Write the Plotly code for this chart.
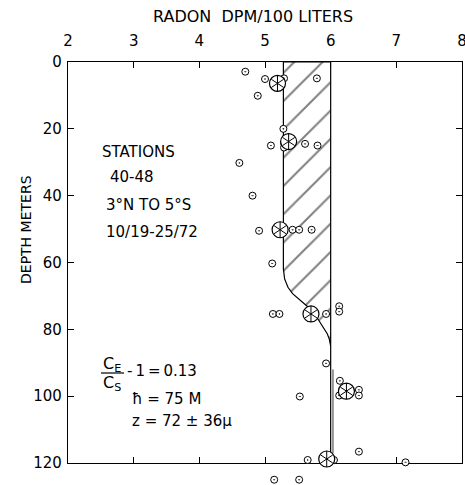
import plotly.graph_objects as go

# ---- data ----
x_ticks = [2, 3, 4, 5, 6, 7, 8]
x_tick_labels = ["2", "3", "4", "5", "6", "7", "8"]
y_ticks = [0, 20, 40, 60, 80, 100, 120]
y_tick_labels = ["0", "20", "40", "60", "80", "100", "120"]

# individual samples (radon dpm/100 L, depth m)
sample_radon = [4.70, 5.00, 4.89, 5.29, 5.79,
                5.28, 5.09, 5.29, 5.29, 5.61, 5.80,
                4.61, 4.81,
                4.91, 5.29, 5.42, 5.52, 5.71,
                5.11,
                5.12, 5.22, 5.93, 6.13, 6.13,
                5.93, 6.14, 6.13, 6.43, 6.43, 5.53,
                6.43, 5.65, 6.05, 7.14,
                5.14, 5.52]
sample_depth = [2.9, 5.1, 10.1, 4.9, 4.9,
                20.0, 25.0, 25.6, 24.2, 24.5, 25.0,
                30.2, 40.0,
                50.5, 50.2, 50.2, 50.2, 50.2,
                60.3,
                75.4, 75.4, 75.4, 73.1, 74.7,
                90.2, 95.4, 99.8, 98.1, 99.8, 100.1,
                116.6, 119.1, 119.1, 119.8,
                125.0, 125.0]

# mean values at each sampling depth
mean_radon = [5.19, 5.36, 5.23, 5.70, 6.24, 5.94]
mean_depth = [6.4, 23.8, 50.2, 75.4, 98.5, 118.8]

# hatched excess-radon region outline
hatch_radon = [5.28, 5.28, 5.30, 5.35, 5.42, 5.51, 5.66, 5.76, 5.84, 5.91, 5.95, 5.98, 6.00, 6.00, 5.28]
hatch_depth = [0.0, 62.0, 65.0, 67.4, 69.3, 70.9, 73.4, 75.5, 77.9, 80.0, 81.4, 83.0, 85.0, 0.0, 0.0]

# equilibrium (226Ra) line below the mixed layer
eq_radon = [6.00, 6.00]
eq_depth = [85.0, 120.0]
eq2_radon = [6.035, 6.035]
eq2_depth = [92.0, 117.0]

# ---- layout helpers (pixel -> paper) ----
W, H = 465, 485
L, R, T, B = 68, 3, 62, 3
AX_BOTTOM = 463          # pixel row of the 120 m frame line
PW, PH = W - L - R, H - T - B
DEPTH_MAX = 120.0
PX_PER_M = (AX_BOTTOM - T) / DEPTH_MAX
EXT_MAX = PH / PX_PER_M   # depth at the very bottom of the extended area
Y_DOMAIN0 = (H - B - AX_BOTTOM) / PH


def px(x):
    return (x - L) / PW


def py(y):
    return 1 - (y - T) / PH


FONT = "DejaVu Sans"

fig = go.Figure()

fig.add_trace(go.Scatter(
    x=hatch_radon, y=hatch_depth, mode="lines", fill="toself",
    fillcolor="white",
    fillpattern=dict(shape="/", fgcolor="black", bgcolor="white", size=20, solidity=0.1),
    line=dict(color="black", width=1.2), hoverinfo="skip", showlegend=False))

fig.add_trace(go.Scatter(x=eq_radon, y=eq_depth, mode="lines",
                         line=dict(color="black", width=1.2), showlegend=False))
fig.add_trace(go.Scatter(x=eq2_radon, y=eq2_depth, mode="lines",
                         line=dict(color="black", width=0.8), showlegend=False))

# samples are drawn on an invisible, taller twin axis so points below 120 m show
fig.add_trace(go.Scatter(
    x=sample_radon, y=sample_depth, mode="markers", cliponaxis=False,
    xaxis="x2", yaxis="y2",
    marker=dict(symbol="circle-dot", size=7, color="white",
                line=dict(color="black", width=1)),
    showlegend=False))

fig.add_trace(go.Scatter(
    x=mean_radon, y=mean_depth, mode="markers", cliponaxis=False,
    xaxis="x2", yaxis="y2",
    marker=dict(symbol="circle", size=16, color="white",
                line=dict(color="black", width=1.2)),
    showlegend=False))
for sym in ["y-up-open", "y-down-open"]:
    fig.add_trace(go.Scatter(
        x=mean_radon, y=mean_depth, mode="markers", cliponaxis=False,
        xaxis="x2", yaxis="y2",
        marker=dict(symbol=sym, size=10, color="black",
                    line=dict(color="black", width=1)),
        showlegend=False))

axis_common = dict(showline=True, linecolor="black", linewidth=1.2, mirror="ticks",
                   ticks="inside", ticklen=6, tickcolor="black", tickwidth=1.2,
                   showgrid=False, zeroline=False, automargin=False,
                   tickfont=dict(family=FONT, size=15, color="black"))

hidden = dict(visible=False, showgrid=False, zeroline=False, fixedrange=True,
              automargin=False)

fig.update_layout(
    xaxis=dict(range=[2, 8], side="top", tickvals=x_ticks, ticktext=x_tick_labels,
               ticklabelstandoff=9, ticklabeloverflow="allow", anchor="y",
               domain=[0, 1], **axis_common),
    yaxis=dict(range=[DEPTH_MAX, 0], tickvals=y_ticks, ticktext=y_tick_labels,
               ticklabelstandoff=2, domain=[Y_DOMAIN0, 1], anchor="x", **axis_common),
    xaxis2=dict(range=[2, 8], domain=[0, 1], anchor="y2", **hidden),
    yaxis2=dict(range=[EXT_MAX, 0], domain=[0, 1], anchor="x2", **hidden),
)

ann = []


def text(s, x, y, xanchor="left", size=15, angle=0):
    ann.append(dict(text=s, x=px(x), y=py(y), xref="paper", yref="paper",
                    xanchor=xanchor, yanchor="middle", showarrow=False,
                    textangle=angle, font=dict(family=FONT, size=size, color="black")))


text("RADON\u00a0\u00a0DPM/100 LITERS", 253, 17, xanchor="center", size=16)
text("DEPTH METERS", 26, 230, xanchor="center", size=14, angle=-90)
text("STATIONS", 100, 152)
text("40-48", 108, 177)
text("3°N TO 5°S", 104, 205)
text("10/19-25/72", 104, 232)
text("C<sub>E</sub>", 112, 364, xanchor="center", size=16)
text("C<sub>S</sub>", 112, 383, xanchor="center", size=16)
text("-\u20091\u2009=\u20090.13", 125, 371)
text("ħ = 75 M", 130, 399)
text("z = 72 ± 36μ", 130, 421)

fig.update_layout(
    width=W, height=H, margin=dict(l=L, r=R, t=T, b=B, autoexpand=False),
    showlegend=False,
    paper_bgcolor="white", plot_bgcolor="rgba(0,0,0,0)",
    annotations=ann,
    shapes=[dict(type="line", xref="paper", yref="paper",
                 x0=px(101), x1=px(124), y0=py(373), y1=py(373),
                 line=dict(color="black", width=1.2))],
)

fig.write_html("out.html")
